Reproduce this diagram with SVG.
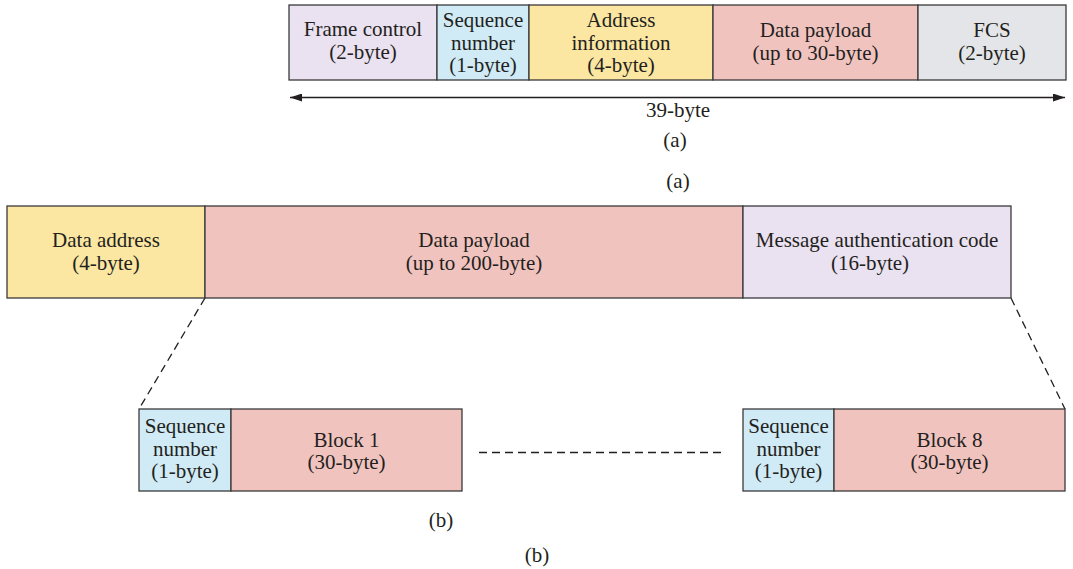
<svg xmlns="http://www.w3.org/2000/svg" width="1073" height="569" viewBox="0 0 1073 569">
<style>
text{font-family:"Liberation Serif","DejaVu Serif",serif;font-size:21px;fill:#231f20;text-anchor:middle}
.box{stroke:#3a3a3a;stroke-width:1.3}
.purple{fill:#eae1f1}.blue{fill:#d0ebf5}.yellow{fill:#fbe6a2}.pink{fill:#f1c3bf}.gray{fill:#e4e5e8}
.dash{stroke:#231f20;stroke-width:1.3;stroke-dasharray:8 5;fill:none}
</style>
<defs>
<marker id="ah" viewBox="0 0 12 8" refX="12" refY="4" markerWidth="12" markerHeight="8" markerUnits="userSpaceOnUse" orient="auto-start-reverse">
<path d="M0,0 L12,4 L0,8 z" fill="#231f20"/>
</marker>
</defs>
<rect x="0" y="0" width="1073" height="569" fill="#ffffff"/>

<g id="frame-control"><rect class="box purple" x="289" y="5" width="148" height="75"/><text x="363" y="36">Frame control</text><text x="363" y="59">(2-byte)</text></g>
<g id="seq-number-a"><rect class="box blue" x="437" y="5" width="92" height="75"/><text x="483" y="27">Sequence</text><text x="483" y="49.5">number</text><text x="483" y="72">(1-byte)</text></g>
<g id="address-info"><rect class="box yellow" x="529" y="5" width="184" height="75"/><text x="621" y="27">Address</text><text x="621" y="49.5">information</text><text x="621" y="72">(4-byte)</text></g>
<g id="payload-a"><rect class="box pink" x="713" y="5" width="205" height="75"/><text x="815.5" y="37">Data payload</text><text x="815.5" y="60">(up to 30-byte)</text></g>
<g id="fcs"><rect class="box gray" x="918" y="5" width="148" height="75"/><text x="992" y="37">FCS</text><text x="992" y="60">(2-byte)</text></g>

<g id="connectors">
<line x1="290" y1="97.5" x2="1065" y2="97.5" stroke="#231f20" stroke-width="1.3" marker-start="url(#ah)" marker-end="url(#ah)"/>
<line class="dash" x1="205" y1="298" x2="139" y2="409"/>
<line class="dash" x1="1011" y1="298" x2="1065" y2="409"/>
<line class="dash" x1="479" y1="452.5" x2="726" y2="452.5"/>
</g>
<text x="678" y="117">39-byte</text>
<text x="675" y="147">(a)</text>
<text x="678" y="188">(a)</text>

<g id="data-address"><rect class="box yellow" x="7" y="206" width="198" height="92"/><text x="106" y="247">Data address</text><text x="106" y="270">(4-byte)</text></g>
<g id="payload-b"><rect class="box pink" x="205" y="206" width="538" height="92"/><text x="474" y="247">Data payload</text><text x="474" y="270">(up to 200-byte)</text></g>
<g id="mac"><rect class="box purple" x="743" y="206" width="268" height="92"/><text x="877" y="247">Message authentication code</text><text x="870" y="270">(16-byte)</text></g>

<g id="seq-1"><rect class="box blue" x="139" y="409" width="92" height="82"/><text x="185" y="433">Sequence</text><text x="185" y="455.5">number</text><text x="185" y="478">(1-byte)</text></g>
<g id="block-1"><rect class="box pink" x="231" y="409" width="231" height="82"/><text x="346.5" y="447">Block 1</text><text x="346.5" y="469">(30-byte)</text></g>
<g id="seq-8"><rect class="box blue" x="743" y="409" width="91" height="82"/><text x="788.5" y="433">Sequence</text><text x="788.5" y="455.5">number</text><text x="788.5" y="478">(1-byte)</text></g>
<g id="block-8"><rect class="box pink" x="834" y="409" width="231" height="82"/><text x="949.5" y="447">Block 8</text><text x="949.5" y="469">(30-byte)</text></g>

<text x="441" y="527">(b)</text>
<text x="537" y="562">(b)</text>
</svg>
